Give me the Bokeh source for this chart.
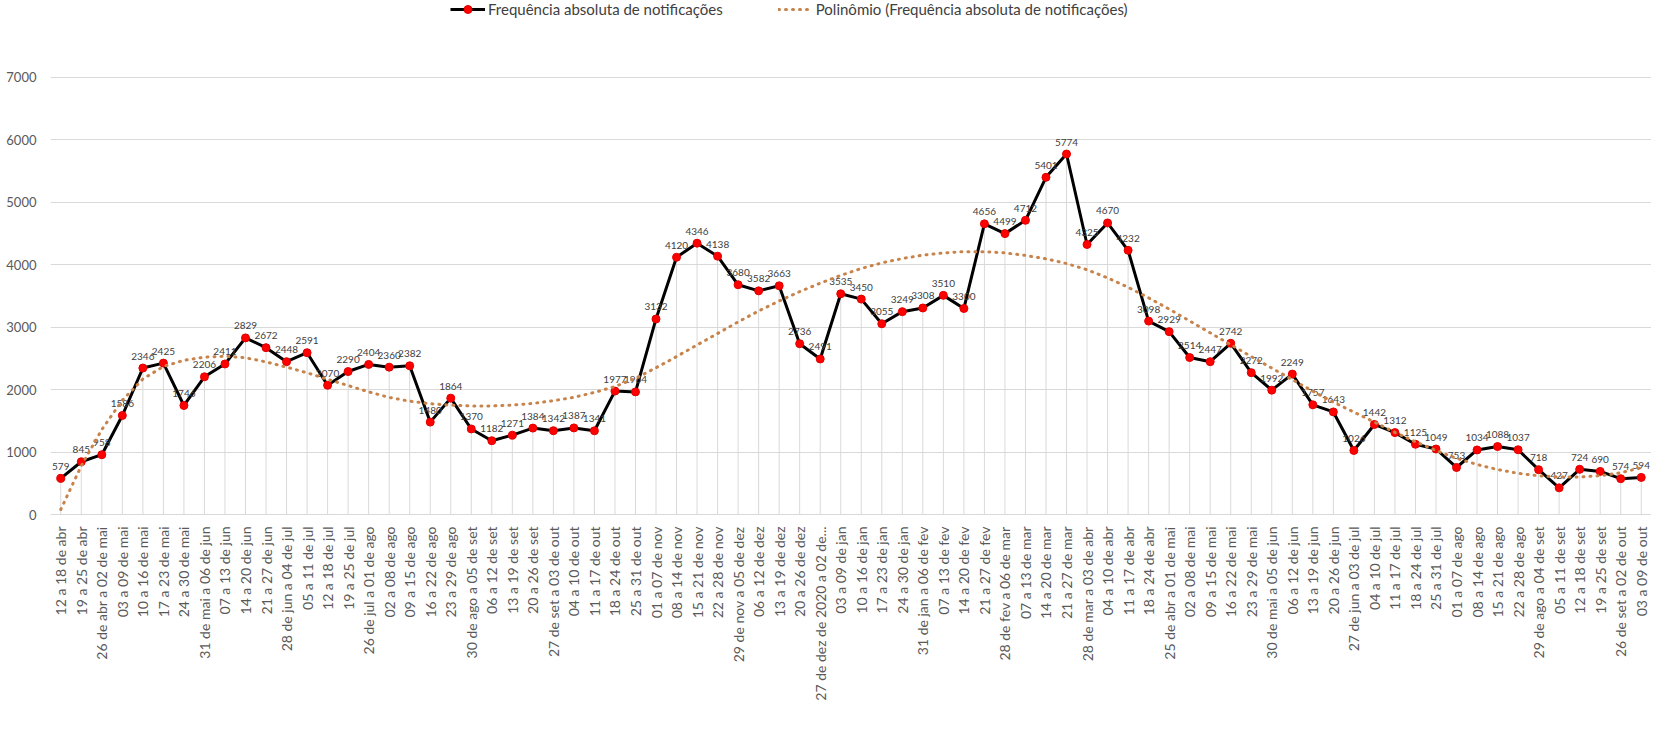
import math
from bokeh.plotting import figure
from bokeh.models import (FactorRange, Range1d, FixedTicker, Legend, LegendItem,
                          ColumnDataSource)
from bokeh.core.properties import value
from bokeh.embed import file_html
from bokeh.resources import INLINE

semanas = [
    "12 a 18 de abr", "19 a 25 de abr", "26 de abr a 02 de mai", "03 a 09 de mai",
    "10 a 16 de mai", "17 a 23 de mai", "24 a 30 de mai", "31 de mai a 06 de jun",
    "07 a 13 de jun", "14 a 20 de jun", "21 a 27 de jun", "28 de jun a 04 de jul",
    "05 a 11 de jul", "12 a 18 de jul", "19 a 25 de jul", "26 de jul a 01 de ago",
    "02 a 08 de ago", "09 a 15 de ago", "16 a 22 de ago", "23 a 29 de ago",
    "30 de ago a 05 de set", "06 a 12 de set", "13 a 19 de set", "20 a 26 de set",
    "27 de set a 03 de out", "04 a 10 de out", "11 a 17 de out", "18 a 24 de out",
    "25 a 31 de out", "01 a 07 de nov", "08 a 14 de nov", "15 a 21 de nov",
    "22 a 28 de nov", "29 de nov a 05 de dez", "06 a 12 de dez", "13 a 19 de dez",
    "20 a 26 de dez", "27 de dez de 2020 a 02 de...", "03 a 09 de jan", "10 a 16 de jan",
    "17 a 23 de jan", "24 a 30 de jan", "31 de jan a 06 de fev", "07 a 13 de fev",
    "14 a 20 de fev", "21 a 27 de fev", "28 de fev a 06 de mar", "07 a 13 de mar",
    "14 a 20 de mar", "21 a 27 de mar", "28 de mar a 03 de abr", "04 a 10 de abr",
    "11 a 17 de abr", "18 a 24 de abr", "25 de abr a 01 de mai", "02 a 08 de mai",
    "09 a 15 de mai", "16 a 22 de mai", "23 a 29 de mai", "30 de mai a 05 de jun",
    "06 a 12 de jun", "13 a 19 de jun", "20 a 26 de jun", "27 de jun a 03 de jul",
    "04 a 10 de jul", "11 a 17 de jul", "18 a 24 de jul", "25 a 31 de jul",
    "01 a 07 de ago", "08 a 14 de ago", "15 a 21 de ago", "22 a 28 de ago",
    "29 de ago a 04 de set", "05 a 11 de set", "12 a 18 de set", "19 a 25 de set",
    "26 de set a 02 de out", "03 a 09 de out",
]

notificacoes = [
    579, 845, 958, 1586, 2346, 2425, 1746, 2206, 2411, 2829,
    2672, 2448, 2591, 2070, 2290, 2404, 2360, 2382, 1480, 1864,
    1370, 1182, 1271, 1384, 1342, 1387, 1341, 1977, 1964, 3132,
    4120, 4346, 4138, 3680, 3582, 3663, 2736, 2491, 3535, 3450,
    3055, 3249, 3308, 3510, 3300, 4656, 4499, 4712, 5401, 5774,
    4325, 4670, 4232, 3098, 2929, 2514, 2447, 2742, 2272, 1992,
    2249, 1757, 1643, 1026, 1442, 1312, 1125, 1049, 753, 1034,
    1088, 1037, 718, 427, 724, 690, 574, 594,
]

# polynomial trend line
tendencia = [
    80, 780, 1360, 1830, 2170, 2370, 2470, 2520, 2535, 2510,
    2445, 2360, 2270, 2165, 2065, 1965, 1875, 1815, 1775, 1750,
    1738, 1738, 1752, 1780, 1822, 1878, 1955, 2050, 2180, 2350,
    2530, 2715, 2900, 3085, 3260, 3420, 3570, 3705, 3830, 3940,
    4030, 4100, 4155, 4190, 4210, 4210, 4190, 4150, 4095, 4020,
    3920, 3790, 3640, 3470, 3290, 3100, 2910, 2720, 2530, 2345,
    2160, 1975, 1800, 1640, 1480, 1315, 1165, 1025, 900, 800,
    720, 660, 620, 600, 600, 622, 668, 750,
]

y_ticks = [0, 1000, 2000, 3000, 4000, 5000, 6000, 7000]

FONT = "Lato"
GRID = "#D9D9D9"

src = ColumnDataSource(dict(
    semana=semanas,
    n=notificacoes,
    t=tendencia,
    rot=[str(v) for v in notificacoes],
))

# the frame reaches the top of the canvas; the blank band above 7000 holds the legend
p = figure(
    width=1651, height=729,
    x_range=FactorRange(factors=semanas, range_padding=0),
    y_range=Range1d(0, 8233),
    output_backend="svg", toolbar_location=None,
    min_border_left=50, min_border_right=0,
    min_border_top=0, min_border_bottom=215,
)
p.outline_line_color = None
p.background_fill_color = "white"
p.border_fill_color = "white"

# axes
p.yaxis.ticker = FixedTicker(ticks=y_ticks)
p.yaxis.axis_line_color = None
p.yaxis.major_tick_line_color = None
p.yaxis.minor_tick_line_color = None
p.yaxis.major_label_standoff = 8
p.yaxis.major_label_text_font = FONT
p.yaxis.major_label_text_font_size = "13px"
p.yaxis.major_label_text_color = "#595959"

p.xaxis.axis_line_color = GRID
p.xaxis.major_tick_line_color = None
p.xaxis.minor_tick_line_color = None
p.xaxis.major_label_orientation = math.pi / 2
p.xaxis.major_label_standoff = 6
p.xaxis.major_label_text_font = FONT
p.xaxis.major_label_text_font_size = "14px"
p.xaxis.major_label_text_color = "#595959"

p.xgrid.grid_line_color = None
p.ygrid.grid_line_color = GRID
p.ygrid.grid_line_width = 1

# drop lines
p.segment(x0="semana", y0=0, x1="semana", y1="n", source=src,
          line_color=GRID, line_width=1)

linha = p.line("semana", "n", source=src, line_color="black", line_width=3)
marcas = p.scatter("semana", "n", source=src, size=8, fill_color="#FF0000",
                   line_color="#E00000", line_width=1)

p.text("semana", "n", text="rot", source=src, text_font=value(FONT),
       text_font_size="10px", text_color="#404040", text_align="center",
       text_baseline="alphabetic", y_offset=-12)

trend = p.line("semana", "t", source=src, line_color="#C8834B", line_width=3,
               line_dash="1 6", line_cap="round")

legend = Legend(
    items=[
        LegendItem(label="Frequência absoluta de notificações", renderers=[linha, marcas]),
        LegendItem(label="Polinômio (Frequência absoluta de notificações)", renderers=[trend]),
    ],
    location=(400, 495), orientation="horizontal",
    padding=0, spacing=55, glyph_width=35, glyph_height=20, label_height=20,
    label_standoff=3, border_line_alpha=0, background_fill_alpha=0,
    label_text_font=FONT, label_text_font_size="15px", label_text_color="#404040",
)
p.add_layout(legend, "center")

open("out.html", "w").write(file_html(p, INLINE))
